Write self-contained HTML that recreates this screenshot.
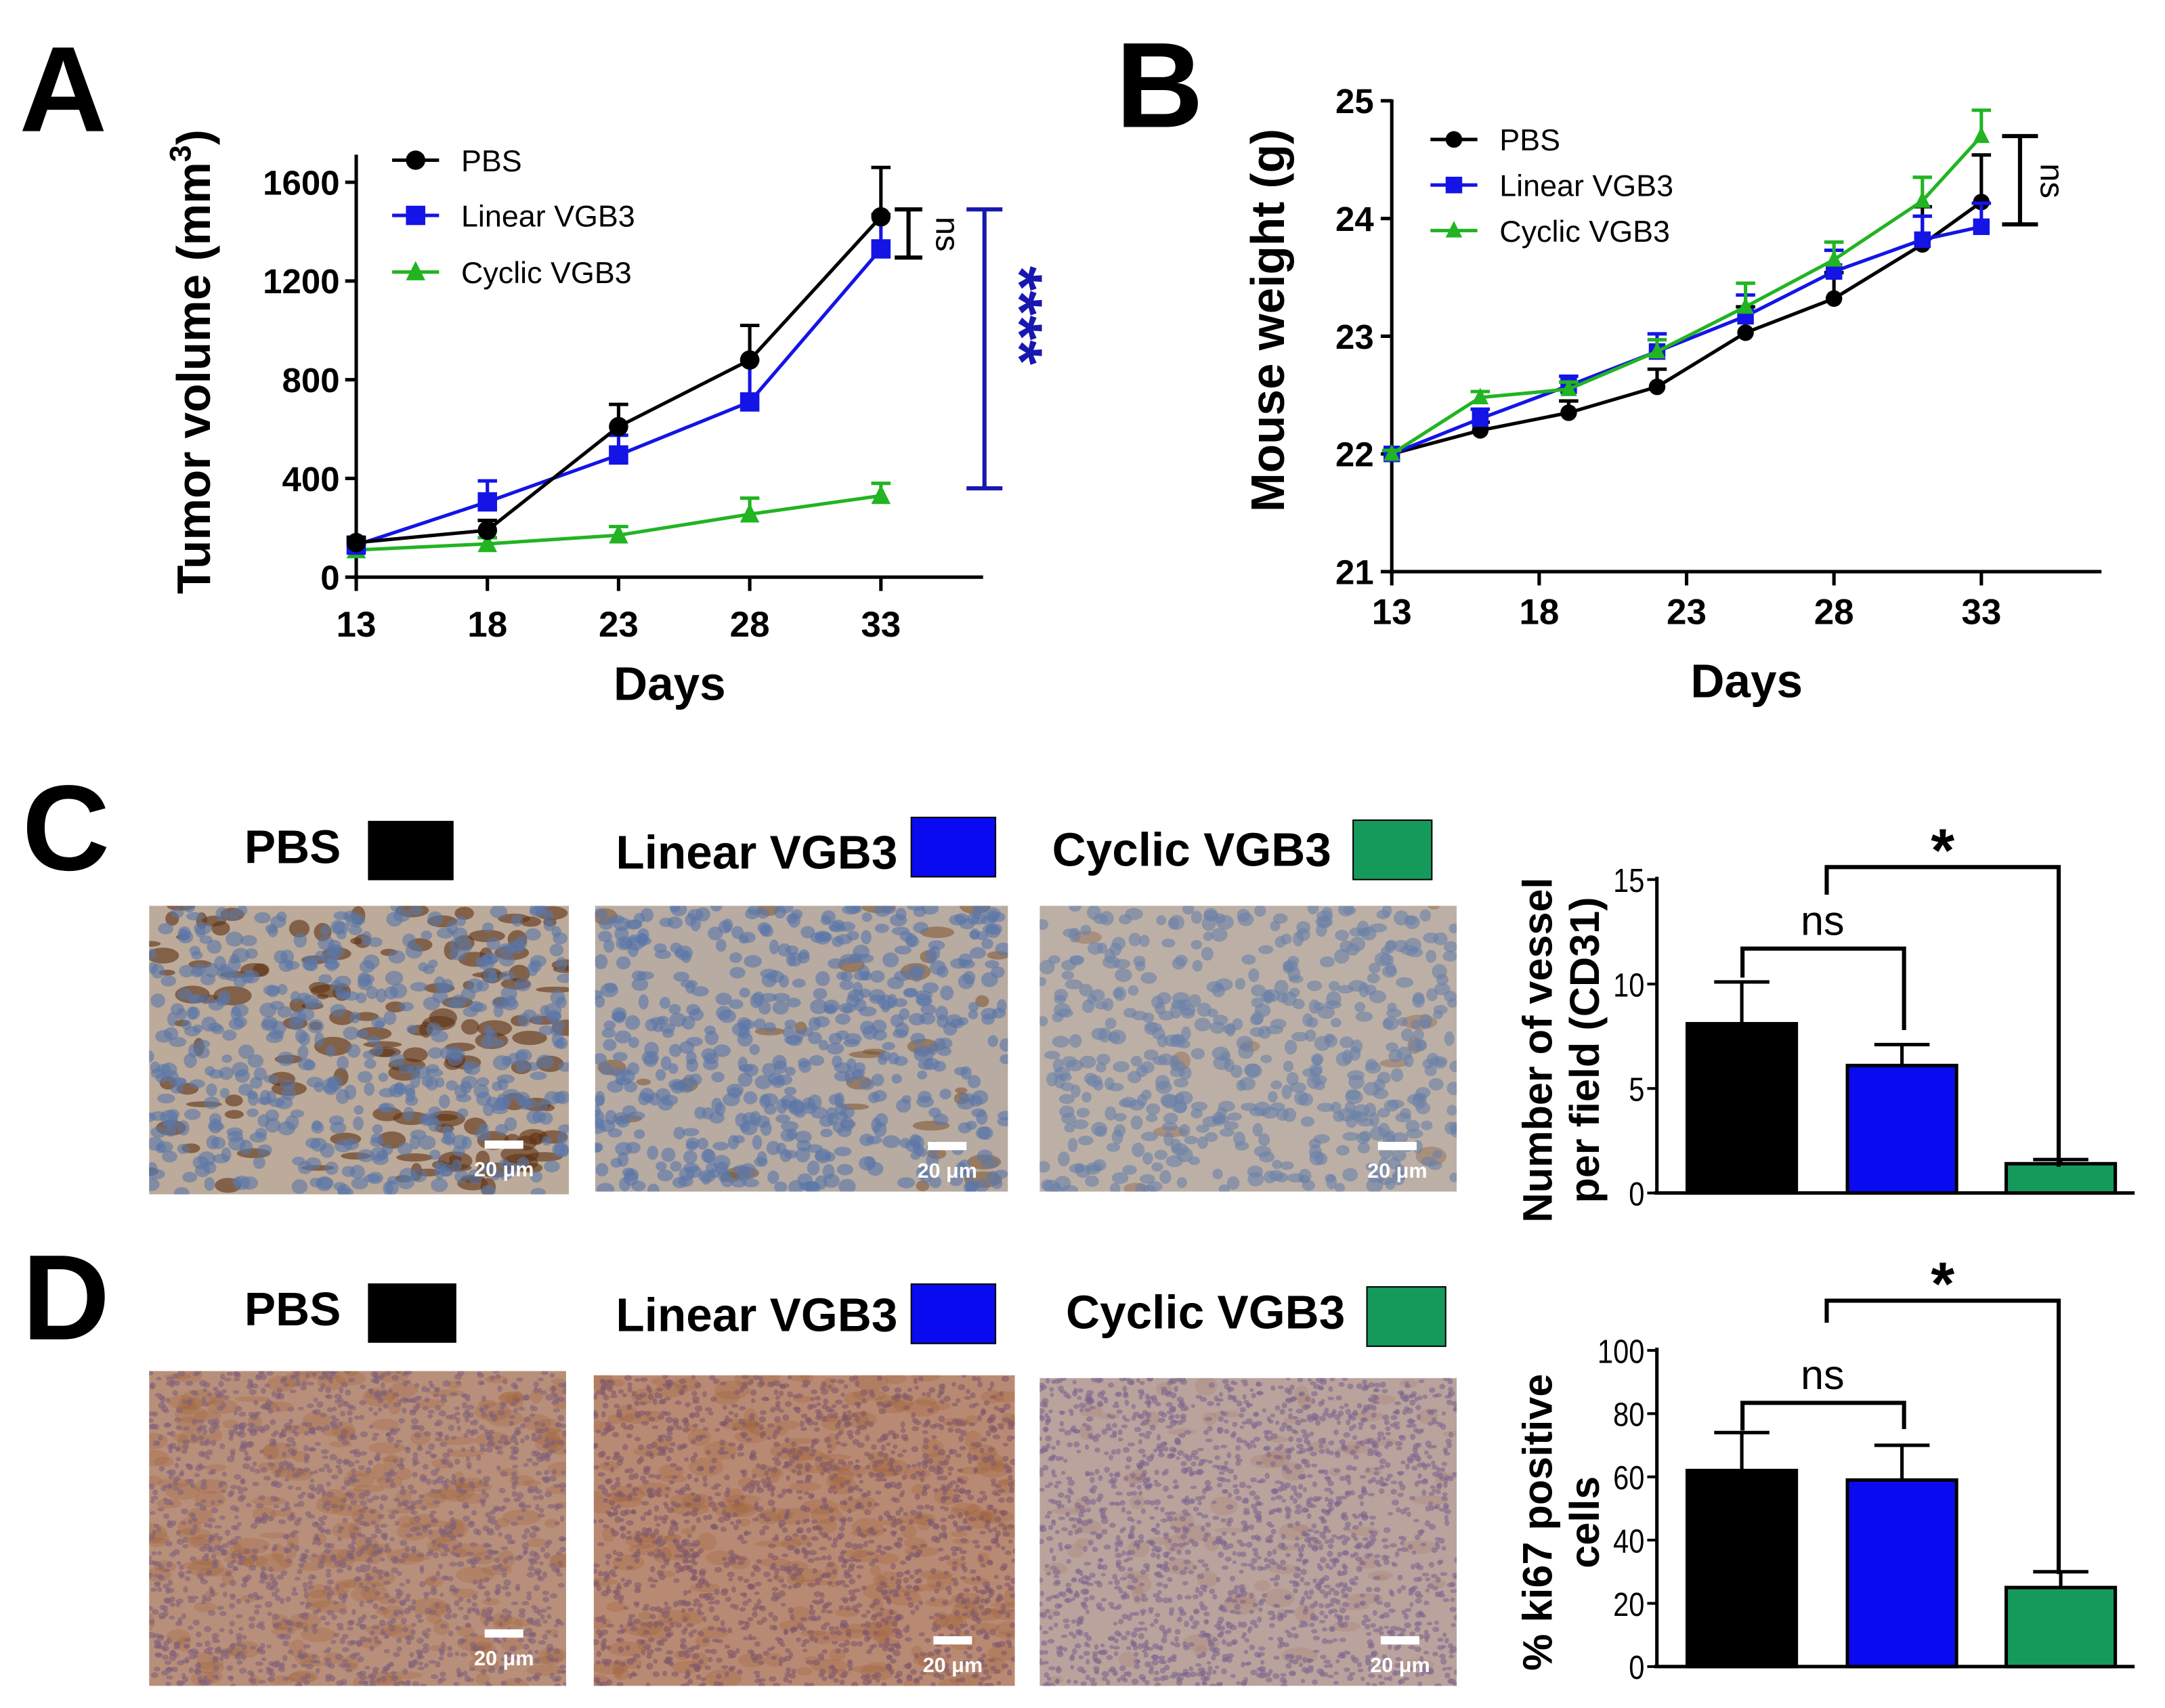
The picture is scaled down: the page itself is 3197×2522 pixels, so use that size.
<!DOCTYPE html>
<html><head><meta charset="utf-8"><style>
html,body{margin:0;padding:0;background:#fff}
svg{display:block}
text{font-family:"Liberation Sans",sans-serif}
</style></head><body>
<svg id="fig" xmlns="http://www.w3.org/2000/svg" width="3197" height="2522" viewBox="0 0 1568 1237" preserveAspectRatio="none">
<rect width="1568" height="1237" fill="#fff"/>
<g id="main"></g>
</svg>
<script>
// Panel A data
const daysA = [13, 18, 23, 28, 33];
const pbsA = [140, 190, 610, 880, 1460];
const pbsAErr = [20, 40, 90, 140, 200];
const linA = [130, 305, 495, 710, 1330];
const linAErr = [20, 85, 80, 170, 140];
const cycA = [110, 135, 170, 255, 330];
const cycAErr = [20, 25, 35, 65, 50];
const ticksAY = [0, 400, 800, 1200, 1600];
const ticksAX = [13, 18, 23, 28, 33];
// Panel B data
const daysB = [13, 16, 19, 22, 25, 28, 31, 33];
const pbsB = [22, 22.2, 22.35, 22.57, 23.03, 23.32, 23.78, 24.14];
const pbsBErr = [0.03, 0.07, 0.1, 0.15, 0.22, 0.22, 0.32, 0.4];
const linB = [22, 22.3, 22.58, 22.87, 23.17, 23.55, 23.82, 23.93];
const linBErr = [0.03, 0.08, 0.08, 0.15, 0.18, 0.18, 0.2, 0.2];
const cycB = [22, 22.48, 22.55, 22.87, 23.25, 23.65, 24.15, 24.7];
const cycBErr = [0.03, 0.05, 0.06, 0.1, 0.2, 0.15, 0.2, 0.22];
const ticksBY = [21, 22, 23, 24, 25];
const ticksBX = [13, 18, 23, 28, 33];
// Panel C bars
const groups = ["PBS", "Linear VGB3", "Cyclic VGB3"];
const vesselVals = [8.1, 6.1, 1.4];
const vesselErr = [2.0, 1.0, 0.2];
const ticksC = [0, 5, 10, 15];
// Panel D bars
const ki67Vals = [62, 59, 25];
const ki67Err = [12, 11, 5];
const ticksD = [0, 20, 40, 60, 80, 100];

const NS = "http://www.w3.org/2000/svg";
const root = document.getElementById("main");
function el(tag, attrs, parent, txt) {
  const e = document.createElementNS(NS, tag);
  for (const k in attrs) e.setAttribute(k, attrs[k]);
  if (txt !== undefined) e.textContent = txt;
  (parent || root).appendChild(e);
  return e;
}
const BLK = "#000", BLU = "#1414e6", GRN = "#22b422", TEAL = "#159a5c";

// ---------- Panel A ----------
const xA = d => 258 + (d - 13) * 19;
const yA = v => 418 - v * (286 / 1600);
const gA = el("g", {});


let t = el("text", {x: 14, y: 95, "font-size": 88, "font-weight": "bold"}, gA, "A");


el("line", {x1: 258, y1: 112, x2: 258, y2: 420, stroke: "#000", "stroke-width": 2.5}, gA);
el("line", {x1: 256, y1: 418, x2: 712, y2: 418, stroke: "#000", "stroke-width": 2.5}, gA);
ticksAY.forEach(v => {
  el("line", {x1: 250, y1: yA(v), x2: 258, y2: yA(v), stroke: "#000", "stroke-width": 2.5}, gA);
  const tt = el("text", {x: 246, y: yA(v) + 9, "font-size": 25, "font-weight": "bold", "text-anchor": "end"}, gA, String(v));
  
  
});
ticksAX.forEach(d => {
  el("line", {x1: xA(d), y1: 418, x2: xA(d), y2: 428, stroke: "#000", "stroke-width": 2.5}, gA);
  const tt = el("text", {x: xA(d), y: 461, "font-size": 26, "font-weight": "bold", "text-anchor": "middle"}, gA, String(d));
  
  
});
t = el("text", {x: 485, y: 507, "font-size": 34, "font-weight": "bold", "text-anchor": "middle"}, gA, "Days");


t = el("text", {transform: "translate(152,262) rotate(-90)", "font-size": 34, "font-weight": "bold", "text-anchor": "middle"}, gA);


t.innerHTML = 'Tumor volume (mm<tspan dy="-14" font-size="22">3</tspan><tspan dy="14">)</tspan>';

function marker(g, kind, x, y, color, s) {
  if (kind === "c") el("circle", {cx: x, cy: y, r: s, fill: color}, g);
  else if (kind === "s") el("rect", {x: x - s, y: y - s, width: 2 * s, height: 2 * s, fill: color}, g);
  else el("polygon", {points: `${x},${y - s - 1} ${x - s},${y + s - 1} ${x + s},${y + s - 1}`, fill: color}, g);
}
function series(g, name, xs, ys, errs, xf, yf, color, kind, s) {
  const sg = el("g", {}, g);
  
  
  xs.forEach((d, i) => {
    const x = xf(d), y1 = yf(ys[i] + errs[i]);
    el("line", {x1: x, y1: yf(ys[i]), x2: x, y2: y1, stroke: color, "stroke-width": 2.5}, sg);
    el("line", {x1: x - 7, y1: y1, x2: x + 7, y2: y1, stroke: color, "stroke-width": 2.5}, sg);
  });
  el("polyline", {points: xs.map((d, i) => xf(d) + "," + yf(ys[i])).join(" "), fill: "none", stroke: color, "stroke-width": 2.5}, sg);
  xs.forEach((d, i) => marker(sg, kind, xf(d), yf(ys[i]), color, s));
}
series(gA, "series-cyclic-vgb3", daysA, cycA, cycAErr, xA, yA, GRN, "t", 7);
series(gA, "series-linear-vgb3", daysA, linA, linAErr, xA, yA, BLU, "s", 7);
series(gA, "series-pbs", daysA, pbsA, pbsAErr, xA, yA, BLK, "c", 7);

function legend(g, x, ys, fs, s) {
  const items = [["PBS", BLK, "c"], ["Linear VGB3", BLU, "s"], ["Cyclic VGB3", GRN, "t"]];
  items.forEach((it, i) => {
    const lg = el("g", {}, g);
    
    
    el("line", {x1: x, y1: ys[i], x2: x + 34, y2: ys[i], stroke: it[1], "stroke-width": 2.5}, lg);
    marker(lg, it[2], x + 17, ys[i], it[1], s);
    el("text", {x: x + 50, y: ys[i] + 8, "font-size": fs}, lg, it[0]);
  });
}
legend(gA, 284, [116, 156, 197], 22, 7);
el("path", {d: `M648,${yA(1490)} H668 M658,${yA(1490)} V${yA(1295)} M648,${yA(1295)} H668`, stroke: "#000", "stroke-width": 3, fill: "none"}, gA);
t = el("text", {transform: `translate(678,${yA(1390)}) rotate(90)`, "font-size": 24, "text-anchor": "middle"}, gA, "ns");


el("path", {d: `M700,${yA(1490)} H726 M713,${yA(1490)} V${yA(360)} M700,${yA(360)} H726`, stroke: "#1818b0", "stroke-width": 3, fill: "none"}, gA);
t = el("text", {transform: `translate(723,${yA(1060)}) rotate(90)`, "font-size": 46, "font-weight": "bold", fill: "#1818b0", "text-anchor": "middle"}, gA, "****");



// ---------- Panel B ----------
const xB = d => 1008 + (d - 13) * 21.35;
const yB = v => 414 - (v - 21) * 85.25;
const gB = el("g", {});


t = el("text", {x: 808, y: 92, "font-size": 88, "font-weight": "bold"}, gB, "B");


el("line", {x1: 1008, y1: 72, x2: 1008, y2: 416, stroke: "#000", "stroke-width": 2.5}, gB);
el("line", {x1: 1006, y1: 414, x2: 1522, y2: 414, stroke: "#000", "stroke-width": 2.5}, gB);
ticksBY.forEach(v => {
  el("line", {x1: 1000, y1: yB(v), x2: 1008, y2: yB(v), stroke: "#000", "stroke-width": 2.5}, gB);
  const tt = el("text", {x: 995, y: yB(v) + 9, "font-size": 25, "font-weight": "bold", "text-anchor": "end"}, gB, String(v));
  
  
});
ticksBX.forEach(d => {
  el("line", {x1: xB(d), y1: 414, x2: xB(d), y2: 424, stroke: "#000", "stroke-width": 2.5}, gB);
  const tt = el("text", {x: xB(d), y: 452, "font-size": 26, "font-weight": "bold", "text-anchor": "middle"}, gB, String(d));
  
  
});
t = el("text", {x: 1265, y: 505, "font-size": 34, "font-weight": "bold", "text-anchor": "middle"}, gB, "Days");


t = el("text", {transform: "translate(930,232) rotate(-90)", "font-size": 34, "font-weight": "bold", "text-anchor": "middle"}, gB, "Mouse weight (g)");


series(gB, "series-pbs", daysB, pbsB, pbsBErr, xB, yB, BLK, "c", 6);
series(gB, "series-linear-vgb3", daysB, linB, linBErr, xB, yB, BLU, "s", 6);
series(gB, "series-cyclic-vgb3", daysB, cycB, cycBErr, xB, yB, GRN, "t", 6);
legend(gB, 1036, [101, 134, 167], 22, 6);
el("path", {d: `M1450,${yB(24.7)} H1476 M1463,${yB(24.7)} V${yB(23.95)} M1450,${yB(23.95)} H1476`, stroke: "#000", "stroke-width": 3, fill: "none"}, gB);
t = el("text", {transform: `translate(1478,${yB(24.32)}) rotate(90)`, "font-size": 24, "text-anchor": "middle"}, gB, "ns");



// ---------- Histology headers & images ----------
const colors3 = [BLK, "#0a0af0", TEAL];
function headers(g, y, boxes) {
  const labs = [["PBS", 177, y], ["Linear VGB3", 446, y + 4], ["Cyclic VGB3", boxes[2][0] - 218, y + 2]];
  labs.forEach((l, i) => {
    const tt = el("text", {x: l[1], y: l[2] + 12, "font-size": 34, "font-weight": "bold"}, g, l[0]);
    
    
    const b = boxes[i];
    const r = el("rect", {x: b[0], y: b[1], width: b[2], height: b[3], fill: colors3[i], stroke: "#000", "stroke-width": 1}, g);
    
    
  });
}
let seed = 7;
function rnd() { seed = (seed * 16807) % 2147483647; return seed / 2147483647; }
function tissue(g, x, y, w, h, base, nuc, n, rad, brown, nb, bop) {
  const ig = el("g", {}, g);
  
  
  const cid = "c" + Math.round(x) + "_" + Math.round(y);
  const cp = el("clipPath", {id: cid}, ig);
  el("rect", {x, y, width: w, height: h}, cp);
  const inner = el("g", {"clip-path": `url(#${cid})`}, ig);
  el("rect", {x, y, width: w, height: h, fill: base}, inner);
  for (let i = 0; i < nb; i++) {
    el("ellipse", {cx: x + rnd() * w, cy: y + rnd() * h, rx: 4 + rnd() * 10, ry: 2 + rnd() * 5, fill: brown, opacity: bop}, inner);
  }
  for (let i = 0; i < n; i++) {
    el("ellipse", {cx: x + rnd() * w, cy: y + rnd() * h, rx: rad * (0.7 + rnd() * 0.6), ry: rad * (0.6 + rnd() * 0.5), fill: nuc, opacity: 0.6}, inner);
  }
  return inner;
}
function scalebar(g, x, y) {
  el("rect", {x: x - 14, y: y, width: 28, height: 6, fill: "#fff"}, g);
  const tt = el("text", {x: x, y: y + 26, "font-size": 15, "font-weight": "bold", fill: "#fff", "text-anchor": "middle"}, g, "20 μm");
  
  
}
const gC = el("g", {});


t = el("text", {x: 16, y: 630, "font-size": 88, "font-weight": "bold"}, gC, "C");


headers(gC, 613, [[267, 595, 61, 42], [660, 592, 61, 43], [980, 594, 57, 43]]);
tissue(gC, 108, 656, 304, 209, "#bcaa9a", "#5a76a8", 500, 5, "#5e3012", 140, 0.6);
scalebar(gC, 365, 826);
tissue(gC, 431, 656, 299, 207, "#b7aba2", "#5a76a8", 560, 5, "#7a4a20", 30, 0.5);
scalebar(gC, 686, 827);
tissue(gC, 753, 656, 302, 207, "#bcb0a6", "#6a80a8", 500, 5, "#8a6040", 10, 0.4);
scalebar(gC, 1012, 827);

const gD = el("g", {});


t = el("text", {x: 16, y: 970, "font-size": 88, "font-weight": "bold"}, gD, "D");


headers(gD, 948, [[267, 930, 63, 42], [660, 930, 61, 43], [990, 932, 57, 43]]);
tissue(gD, 108, 993, 302, 228, "#b88f7a", "#80607a", 1800, 2.2, "#9a5a30", 250, 0.25);
scalebar(gD, 365, 1180);
tissue(gD, 430, 996, 305, 225, "#b98a73", "#80586a", 1800, 2.2, "#9a5a30", 250, 0.25);
scalebar(gD, 690, 1185);
tissue(gD, 753, 998, 302, 223, "#b9a39c", "#7f6890", 2000, 2.1, "#a07060", 80, 0.2);
scalebar(gD, 1014, 1185);

// ---------- Bar charts ----------
function barChart(g, vals, errs, ticks, ymax, y0, ytop, titleLines, ns, star) {
  const yf = v => y0 - v * (y0 - ytop) / ymax;
  const bx = [1222, 1338, 1453];
  const bw = 79;
  el("line", {x1: 1200, y1: ytop - 2, x2: 1200, y2: y0 + 1, stroke: "#000", "stroke-width": 2.5}, g);
  el("line", {x1: 1198, y1: y0, x2: 1546, y2: y0, stroke: "#000", "stroke-width": 2.5}, g);
  ticks.forEach(v => {
    el("line", {x1: 1193, y1: yf(v), x2: 1200, y2: yf(v), stroke: "#000", "stroke-width": 2}, g);
    const tt = el("text", {x: 1191, y: yf(v) + 9, "font-size": 24, "text-anchor": "end", transform: `translate(1191,0) scale(0.85,1) translate(-1191,0)`}, g, String(v));
    
    
  });
  vals.forEach((v, i) => {
    const cx = bx[i] + bw / 2;
    el("line", {x1: cx, y1: yf(v), x2: cx, y2: yf(v + errs[i]), stroke: "#000", "stroke-width": 2.5}, g);
    el("line", {x1: cx - 20, y1: yf(v + errs[i]), x2: cx + 20, y2: yf(v + errs[i]), stroke: "#000", "stroke-width": 2.5}, g);
    const r = el("rect", {x: bx[i], y: yf(v), width: bw, height: y0 - yf(v), fill: colors3[i], stroke: "#000", "stroke-width": 2.5}, g);
    
    
  });
  const tt = el("text", {transform: `translate(1124,${(y0 + ytop) / 2 + 10}) rotate(-90)`, "font-size": 30, "font-weight": "bold", "text-anchor": "middle"}, g);
  
  
  tt.innerHTML = `<tspan x="0" dy="0">${titleLines[0]}</tspan><tspan x="0" dy="34">${titleLines[1]}</tspan>`;
  el("path", {d: `M1262,${ns[1]} V${ns[0]} H1379 V${ns[2]}`, stroke: "#000", "stroke-width": 3, fill: "none"}, g);
  let s = el("text", {x: 1320, y: ns[0] - 10, "font-size": 30, "text-anchor": "middle"}, g, "ns");
  
  
  el("path", {d: `M1323,${star[1]} V${star[0]} H1491 V${star[2]}`, stroke: "#000", "stroke-width": 3, fill: "none"}, g);
  s = el("text", {x: 1407, y: star[0] + 3, "font-size": 44, "font-weight": "bold", "text-anchor": "middle"}, g, "*");
  
  
}
const gCb = el("g", {});


barChart(gCb, vesselVals, vesselErr, ticksC, 15, 864, 637, ["Number of vessel", "per field (CD31)"], [687, 708, 746], [628, 648, 845]);
const gDb = el("g", {});


barChart(gDb, ki67Vals, ki67Err, ticksD, 100, 1207, 978, ["% ki67 positive", "cells"], [1016, 1036, 1035], [942, 958, 1140]);
</script>
</body></html>
